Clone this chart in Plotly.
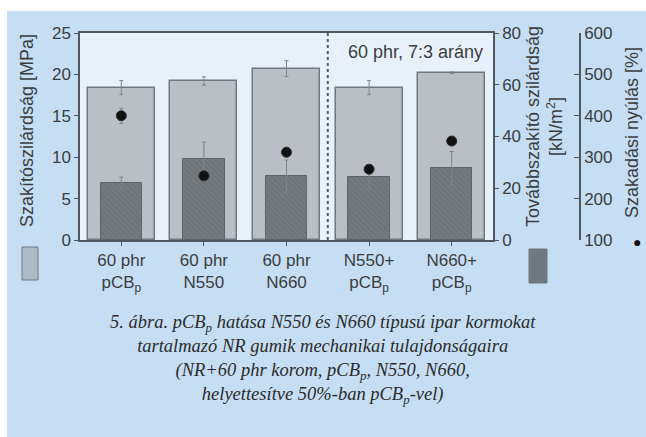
import plotly.graph_objects as go

categories = ["60 phr<br>pCB<sub>p</sub>", "60 phr<br>N550", "60 phr<br>N660",
              "N550+<br>pCB<sub>p</sub>", "N660+<br>pCB<sub>p</sub>"]
tensile = [18.4, 19.2, 20.7, 18.4, 20.2]          # MPa
tensile_err = [0.85, 0.5, 0.95, 0.85, 0.1]
tear = [22.0, 31.3, 24.7, 24.3, 27.8]             # kN/m2
tear_err = [2.3, 6.5, 6.2, 4.5, 6.4]
elong = [400, 255, 312, 271, 339]                 # %
elong_err = [18, 10, 12, 10, 8]

xpos = list(range(len(categories)))
divider = 2.5  # between single fillers and blends

W, H = 646, 437
L, R, T, B = 80, 10, 33, 197
pw = W - L - R
ph = H - T - B
def px(x):
    return (x - L) / pw
def py(y):
    return (H - B - y) / ph

xdom_end = (493 - L) / pw

tick_font = dict(family="Liberation Sans, Arial, sans-serif", size=17, color="#3a3d40")
axis_col = "#4f5861"

fig = go.Figure()
fig.add_trace(go.Bar(
    x=xpos, y=tensile, width=0.81, yaxis="y",
    marker=dict(color="#b9bfc5", line=dict(color="#6f7982", width=1.5)),
    error_y=dict(type="data", array=tensile_err, color="#7d858c", thickness=1, width=2),
    showlegend=False))
fig.add_trace(go.Bar(
    x=xpos, y=tear, width=0.5, yaxis="y2",
    marker=dict(color="#6f7478", line=dict(color="#5f6468", width=1),
                pattern=dict(shape="\\", fgcolor="#80858a", size=4, solidity=0.35)),
    error_y=dict(type="data", array=tear_err, color="#7d858c", thickness=1, width=2),
    showlegend=False))
fig.add_trace(go.Scatter(
    x=xpos, y=elong, yaxis="y3", mode="markers",
    error_y=dict(type="data", array=elong_err, color="#7d858c", thickness=1, width=2),
    marker=dict(size=10, color="#111111", line=dict(width=1, color="#2a2a2a")),
    showlegend=False))

fig.update_layout(
    width=W, height=H, margin=dict(l=L, r=R, t=T, b=B),
    paper_bgcolor="#c6def3", plot_bgcolor="#e8f1fa",
    barmode="overlay", bargap=0,
    xaxis=dict(domain=[0, xdom_end], range=[-0.5, 4.5], tickvals=xpos, ticktext=categories,
               ticks="outside", ticklen=4, tickcolor=axis_col, showline=True, linecolor=axis_col,
               linewidth=1.5, mirror=True, showgrid=False, zeroline=False,
               tickfont=dict(family="Liberation Sans, Arial, sans-serif", size=17, color="#3a3d40")),
    xaxis2=dict(overlaying="x", side="top", range=[-0.5, 4.5], tickvals=xpos, ticks="inside",
                ticklen=4, tickcolor=axis_col, showticklabels=False, showline=False,
                showgrid=False, zeroline=False, anchor="y"),
    yaxis=dict(range=[0, 25], tickvals=[0, 5, 10, 15, 20, 25], ticks="outside", ticklen=4,
               tickcolor=axis_col, showline=True, linecolor=axis_col, linewidth=1.5,
               showgrid=False, zeroline=False, tickfont=tick_font),
    yaxis2=dict(overlaying="y", side="right", anchor="x", range=[0, 80],
                tickvals=[0, 20, 40, 60, 80], ticks="outside", ticklen=4, tickcolor=axis_col,
                showline=True, linecolor=axis_col, linewidth=1.5, showgrid=False,
                zeroline=False, tickfont=tick_font),
    yaxis3=dict(overlaying="y", side="right", anchor="free", position=px(580),
                range=[100, 600], tickvals=[100, 200, 300, 400, 500, 600], ticks="inside",
                ticklen=5, tickcolor=axis_col, showline=True, linecolor=axis_col, linewidth=1.5,
                showgrid=False, zeroline=False, tickfont=tick_font),
)

# dashed divider
fig.add_shape(type="line", xref="x", yref="paper", x0=divider, x1=divider, y0=0, y1=1,
              line=dict(color="#555c63", width=2, dash="dot"))

# white page strips outside the blue panel
fig.add_shape(type="rect", xref="paper", yref="paper", x0=px(0), x1=px(W), y0=py(11), y1=py(0),
              fillcolor="white", line=dict(width=0), layer="above")
fig.add_shape(type="rect", xref="paper", yref="paper", x0=px(0), x1=px(7), y0=py(H), y1=py(0),
              fillcolor="white", line=dict(width=0), layer="above")

# legend swatches
fig.add_shape(type="rect", xref="paper", yref="paper", x0=px(22), x1=px(38), y0=py(280), y1=py(247),
              fillcolor="#adbbc6", line=dict(color="#6f7982", width=1))
fig.add_shape(type="rect", xref="paper", yref="paper", x0=px(529), x1=px(547), y0=py(283), y1=py(249),
              fillcolor="#6f7a80", line=dict(color="#6f7a80", width=1))

title_font = dict(family="Liberation Sans, Arial, sans-serif", size=18, color="#3a3d40")
def ann(x, y, text, **kw):
    fig.add_annotation(xref="paper", yref="paper", x=px(x), y=py(y), text=text,
                       showarrow=False, xanchor="center", yanchor="middle", **kw)

ann(27, 131, "Szakítószilárdság [MPa]", textangle=-90, font=title_font)
ann(544, 127, "Továbbszakító szilárdság<br>[kN/m<sup>2</sup>]", textangle=-90, font=title_font)
ann(632, 133, "Szakadási nyúlás [%]", textangle=-90, font=title_font)
ann(637, 241, "●", font=dict(size=14, color="#111"))
ann(415, 52, "60 phr, 7:3 arány", font=title_font)

caption_lines = ["5. ábra. pCB<sub>p</sub> hatása N550 és N660 típusú ipar kormokat",
                 "tartalmazó NR gumik mechanikai tulajdonságaira",
                 "(NR+60 phr korom, pCB<sub>p</sub>, N550, N660,",
                 "helyettesítve 50%-ban pCB<sub>p</sub>-vel)"]
ann(323, 359, "<br>".join("<i>" + s + "</i>" for s in caption_lines), align="center",
    font=dict(family="Liberation Serif, Times New Roman, serif", size=18.5, color="#2b2b2b"))

fig.write_html("out.html")
